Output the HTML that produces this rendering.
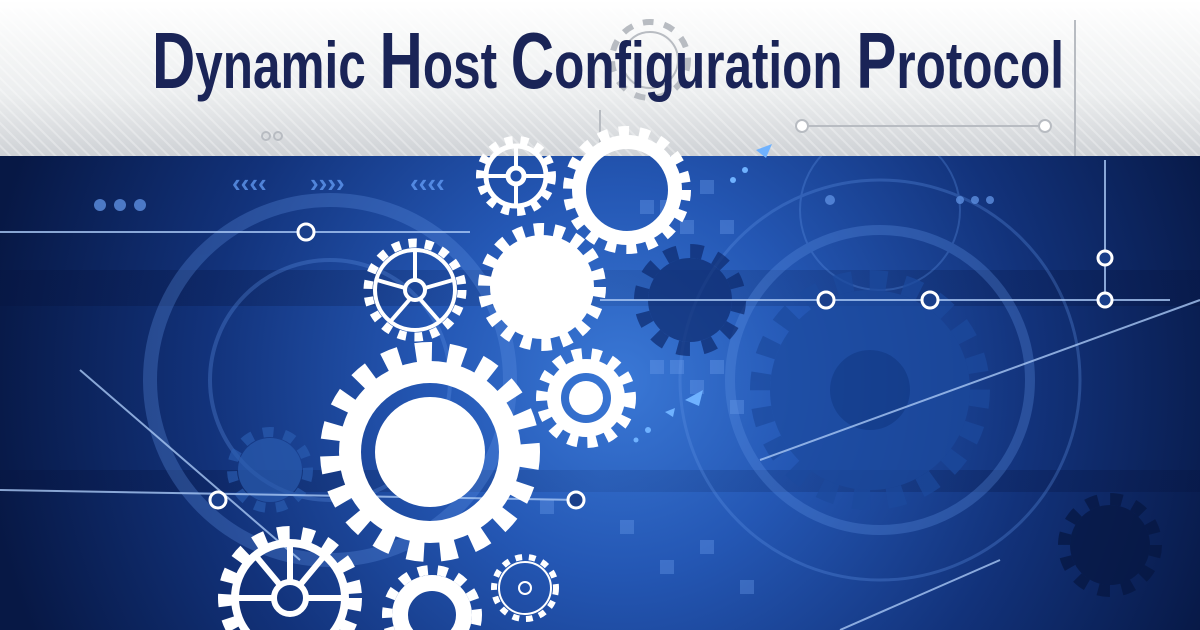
<!DOCTYPE html>
<html><head><meta charset="utf-8"><style>
html,body{margin:0;padding:0;width:1200px;height:630px;overflow:hidden;background:#0b1f5e}
svg{display:block}
</style></head><body>
<svg width="1200" height="630" viewBox="0 0 1200 630" xmlns="http://www.w3.org/2000/svg">
<defs>
<radialGradient id="bg" cx="620" cy="380" r="640" gradientUnits="userSpaceOnUse">
<stop offset="0" stop-color="#3a78d6"/><stop offset="0.3" stop-color="#2457b4"/><stop offset="0.65" stop-color="#12327a"/><stop offset="1" stop-color="#071845"/>
</radialGradient>
<linearGradient id="top" x1="0" y1="0" x2="0" y2="1">
<stop offset="0" stop-color="#ffffff"/><stop offset="0.6" stop-color="#eceeef"/><stop offset="1" stop-color="#cfd2d6"/>
</linearGradient>
<pattern id="str" width="8" height="8" patternUnits="userSpaceOnUse" patternTransform="rotate(-45)">
<rect width="2" height="8" fill="#ffffff" opacity="0.5"/>
</pattern>
<linearGradient id="band" x1="0" y1="0" x2="1" y2="0">
<stop offset="0" stop-color="#061440" stop-opacity="0.8"/><stop offset="0.5" stop-color="#061440" stop-opacity="0.2"/><stop offset="1" stop-color="#061440" stop-opacity="0.7"/>
</linearGradient>
</defs>
<rect width="1200" height="630" fill="url(#bg)"/>
<rect y="270" width="1200" height="36" fill="url(#band)" opacity="0.5"/>
<rect y="470" width="1200" height="22" fill="url(#band)" opacity="0.5"/>
<g fill="none" stroke="#5f93e6" opacity="0.3">
<circle cx="330" cy="380" r="180" stroke-width="14"/>
<circle cx="330" cy="380" r="120" stroke-width="4"/>
<circle cx="880" cy="380" r="200" stroke-width="3"/>
<circle cx="880" cy="380" r="150" stroke-width="10"/>
<circle cx="880" cy="210" r="80" stroke-width="2"/>
</g>
<g fill="#0d2a6e" opacity="0.7">
<circle cx="690" cy="300" r="42"/>
<circle cx="690" cy="300" r="49" fill="none" stroke="#0d2a6e" stroke-width="14" pathLength="100" stroke-dasharray="4.17 4.17"/>
<circle cx="870" cy="390" r="100" fill="#1c4a9e"/>
<circle cx="870" cy="390" r="110" fill="none" stroke="#1c4a9e" stroke-width="20" pathLength="100" stroke-dasharray="2.5 2.5"/>
<circle cx="870" cy="390" r="40" fill="#123a86"/>
<circle cx="1110" cy="545" r="40" fill="#061640"/>
<circle cx="1110" cy="545" r="46" fill="none" stroke="#061640" stroke-width="12" pathLength="100" stroke-dasharray="4.17 4.17"/>
<circle cx="270" cy="470" r="32" fill="#2a5cb0"/>
<circle cx="270" cy="470" r="38" fill="none" stroke="#2a5cb0" stroke-width="10" pathLength="100" stroke-dasharray="4.5 4.5"/>
</g>
<g fill="#6fa0ee" opacity="0.35">
<rect x="640" y="200" width="14" height="14"/><rect x="660" y="200" width="14" height="14"/><rect x="680" y="220" width="14" height="14"/><rect x="700" y="180" width="14" height="14"/><rect x="720" y="220" width="14" height="14"/>
<rect x="650" y="360" width="14" height="14"/><rect x="670" y="360" width="14" height="14"/><rect x="690" y="380" width="14" height="14"/><rect x="710" y="360" width="14" height="14"/><rect x="730" y="400" width="14" height="14"/>
<rect x="500" y="430" width="14" height="14"/><rect x="520" y="450" width="14" height="14"/><rect x="540" y="500" width="14" height="14"/><rect x="620" y="520" width="14" height="14"/><rect x="660" y="560" width="14" height="14"/><rect x="700" y="540" width="14" height="14"/><rect x="740" y="580" width="14" height="14"/>
</g>
<g stroke="#a9c8f5" stroke-width="2" fill="none" opacity="0.8">
<line x1="0" y1="232" x2="470" y2="232"/>
<line x1="600" y1="300" x2="1170" y2="300"/>
<line x1="1105" y1="160" x2="1105" y2="300"/>
<line x1="80" y1="370" x2="300" y2="560"/>
<line x1="0" y1="490" x2="580" y2="500"/>
<line x1="760" y1="460" x2="1200" y2="300"/>
<line x1="840" y1="630" x2="1000" y2="560"/>
</g>
<g fill="#1a3f8a" stroke="#ffffff" stroke-width="3">
<circle cx="306" cy="232" r="8"/><circle cx="826" cy="300" r="8"/><circle cx="930" cy="300" r="8"/><circle cx="1105" cy="300" r="7"/><circle cx="1105" cy="258" r="7"/><circle cx="218" cy="500" r="8"/><circle cx="576" cy="500" r="8"/>
</g>
<g fill="#5d8fe0" opacity="0.8">
<circle cx="100" cy="205" r="6"/><circle cx="120" cy="205" r="6"/><circle cx="140" cy="205" r="6"/>
<circle cx="830" cy="200" r="5"/><circle cx="960" cy="200" r="4"/><circle cx="975" cy="200" r="4"/><circle cx="990" cy="200" r="4"/>
</g>
<g fill="#6aa5ff" font-family="Liberation Sans, sans-serif" font-size="26" font-weight="bold" opacity="0.7">
<text x="232" y="192">‹‹‹‹</text><text x="310" y="192">››››</text><text x="410" y="192">‹‹‹‹</text>
</g>
<rect width="1200" height="156" fill="url(#top)"/>
<rect width="1200" height="156" fill="url(#str)" opacity="0.6"/>
<g stroke="#b8bcc2" stroke-width="2" fill="none">
<line x1="800" y1="126" x2="1045" y2="126"/><line x1="1075" y1="20" x2="1075" y2="156"/><line x1="600" y1="110" x2="600" y2="156"/>
<circle cx="802" cy="126" r="6" fill="#fff"/><circle cx="1045" cy="126" r="6" fill="#fff"/><circle cx="266" cy="136" r="4"/><circle cx="278" cy="136" r="4"/>
<circle cx="650" cy="60" r="38" stroke-width="6" pathLength="100" stroke-dasharray="4.5 4.5"/><circle cx="650" cy="60" r="28"/>
</g>
<text x="152" y="88" font-family="'Liberation Sans Narrow','Liberation Sans',sans-serif" font-size="66" font-weight="bold" fill="#1a2457" textLength="912" lengthAdjust="spacingAndGlyphs"><tspan font-size="80">D</tspan>ynamic <tspan font-size="80">H</tspan>ost <tspan font-size="80">C</tspan>onfiguration <tspan font-size="80">P</tspan>rotocol</text>
<g fill="none" stroke="#ffffff">
<circle cx="430" cy="452" r="80" stroke-width="22"/>
<circle cx="430" cy="452" r="55" fill="#fff" stroke="none"/>
<circle cx="430" cy="452" r="100" stroke-width="20" pathLength="100" stroke-dasharray="2.6 2.6"/>
<circle cx="542" cy="287" r="52" fill="#fff" stroke="none"/>
<circle cx="542" cy="287" r="57" stroke-width="14" pathLength="100" stroke-dasharray="2.8 2.8"/>
<circle cx="627" cy="190" r="48" stroke-width="14"/>
<circle cx="627" cy="190" r="58" stroke-width="12" pathLength="100" stroke-dasharray="2.8 2.8"/>
<circle cx="516" cy="176" r="30" stroke-width="5"/>
<circle cx="516" cy="176" r="36" stroke-width="8" pathLength="100" stroke-dasharray="3.5 3.5"/>
<circle cx="516" cy="176" r="8" stroke-width="5"/>
<path d="M516 168V148M524 176H544M516 184V204M508 176H488" stroke-width="4"/>
<circle cx="415" cy="290" r="40" stroke-width="4"/>
<circle cx="415" cy="290" r="47" stroke-width="9" pathLength="100" stroke-dasharray="2.8 2.8"/>
<circle cx="415" cy="290" r="10" stroke-width="4"/>
<path d="M415 280V250M425 288L453 280M420 299L440 322M410 299L390 322M405 288L377 280" stroke-width="4"/>
<circle cx="586" cy="398" r="32" stroke-width="14"/>
<circle cx="586" cy="398" r="17" fill="#fff" stroke="none"/>
<circle cx="586" cy="398" r="44" stroke-width="12" pathLength="100" stroke-dasharray="3.5 3.5"/>
<circle cx="290" cy="598" r="55" stroke-width="8"/>
<circle cx="290" cy="598" r="65" stroke-width="14" pathLength="100" stroke-dasharray="3 3"/>
<circle cx="290" cy="598" r="16" stroke-width="6"/>
<path d="M290 582V545M306 598H345M274 598H235M280 585L255 555M300 585L325 555" stroke-width="6"/>
<circle cx="432" cy="615" r="32" stroke-width="16"/>
<circle cx="432" cy="615" r="45" stroke-width="10" pathLength="100" stroke-dasharray="3.5 3.5"/>
<circle cx="525" cy="588" r="26" stroke-width="2"/>
<circle cx="525" cy="588" r="31" stroke-width="6" pathLength="100" stroke-dasharray="3.5 3.5"/>
<circle cx="525" cy="588" r="6" stroke-width="2"/>
</g>
<g fill="#6fb2ff">
<path d="M685 400l18-10-4 16z"/><path d="M665 412l10-4-2 9z"/><circle cx="648" cy="430" r="3"/><circle cx="636" cy="440" r="2.5"/>
<path d="M772 144l-16 6 10 8z"/><circle cx="745" cy="170" r="3"/><circle cx="733" cy="180" r="3"/>
</g>
</svg>
</body></html>
